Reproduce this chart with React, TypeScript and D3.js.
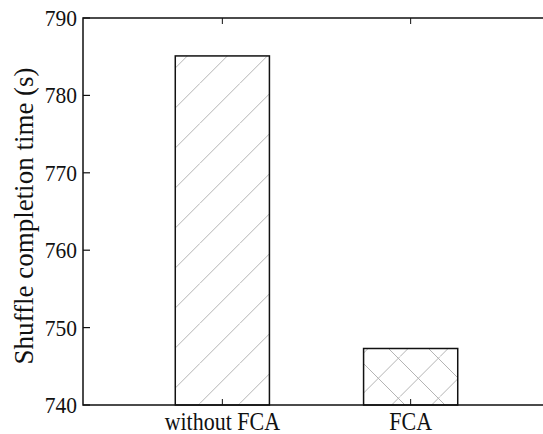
import React from 'react';
import * as d3 from 'd3';

// data
const categories = ['without FCA', 'FCA'];
const times = [785.1, 747.3];
const hatches = ['diag', 'cross'];
const yTicks = [740, 750, 760, 770, 780, 790];
const yLabel = 'Shuffle completion time (s)';

const W = 543;
const H = 434;
const left = 83;
const top = 18;
const bottom = 405;

const font = 'Liberation Serif, DejaVu Serif, Times New Roman, serif';

// tile path for a 40px hatch; k is the x+y phase of the '/' lines
const slashTile = (k: number) => `M${k},0 L0,${k} M40,${k} L${k},40`;

const App = () => {
  const x = d3.scaleLinear().domain([0.26, 2.74]).range([left, 550]);
  const y = d3.scaleLinear().domain([740, 790]).range([bottom, top]);
  const barW = x(1.5) - x(1);

  return (
    <svg
      width={W}
      height={H}
      style={{ position: 'absolute', left: 0, top: 0, background: '#fff' }}
    >
      <defs>
        <pattern id="diag" patternUnits="userSpaceOnUse" width={40} height={40}>
          <path d={slashTile(3.3)} stroke="#b4b4b4" strokeWidth={1} fill="none" />
        </pattern>
        <pattern id="cross" patternUnits="userSpaceOnUse" width={40} height={40}>
          <path
            d={slashTile(36.6) + ' M0,0 L40,40'}
            stroke="#b4b4b4"
            strokeWidth={1}
            fill="none"
          />
        </pattern>
      </defs>

      {/* bars */}
      {times.map((t, i) => (
        <g key={categories[i]}>
          <rect
            x={x(i + 1) - barW / 2}
            y={y(t)}
            width={barW}
            height={y(740) - y(t)}
            fill="#fff"
          />
          <rect
            x={x(i + 1) - barW / 2}
            y={y(t)}
            width={barW}
            height={y(740) - y(t)}
            fill={`url(#${hatches[i]})`}
            stroke="#111"
            strokeWidth={1.5}
          />
        </g>
      ))}

      {/* frame */}
      <path
        d={`M${W + 5},${top} L${left},${top} L${left},${bottom} L${W + 5},${bottom}`}
        fill="none"
        stroke="#111"
        strokeWidth={1.5}
      />

      {/* y ticks */}
      {yTicks.map(v => (
        <g key={v}>
          <line x1={left} x2={left + 7} y1={y(v)} y2={y(v)} stroke="#111" strokeWidth={1.2} />
          <text
            transform={`translate(77,${y(v) + 8}) scale(1,1.12)`}
            textAnchor="end"
            style={{ fontFamily: font, fontSize: 21.5 }}
            fill="#111"
          >
            {v}
          </text>
        </g>
      ))}

      {/* x ticks and labels */}
      {categories.map((c, i) => (
        <g key={c}>
          <line x1={x(i + 1)} x2={x(i + 1)} y1={bottom} y2={bottom - 6} stroke="#111" strokeWidth={1} />
          <line x1={x(i + 1)} x2={x(i + 1)} y1={top} y2={top + 6} stroke="#111" strokeWidth={1} />
          <text
            transform={`translate(${x(i + 1)},430) scale(1,1.12)`}
            textAnchor="middle"
            style={{ fontFamily: font, fontSize: 22 }}
            fill="#111"
          >
            {c}
          </text>
        </g>
      ))}

      {/* y axis label */}
      <text
        transform={`translate(33,216) rotate(-90)`}
        textAnchor="middle"
        style={{ fontFamily: font, fontSize: 27 }}
        fill="#111"
      >
        {yLabel}
      </text>
    </svg>
  );
};

export default App;
